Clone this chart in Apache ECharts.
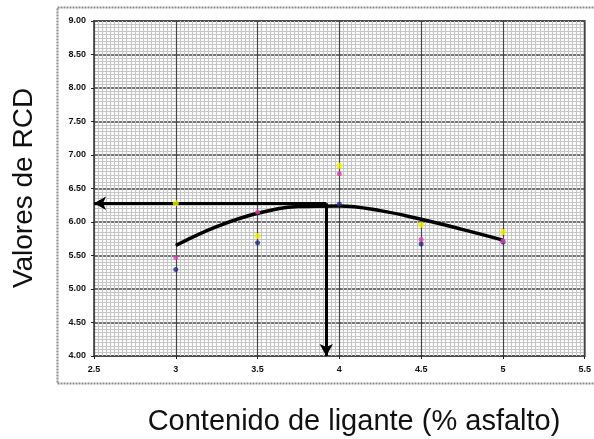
<!DOCTYPE html>
<html>
<head>
<meta charset="utf-8">
<script src="https://cdn.jsdelivr.net/npm/echarts@6/dist/echarts.min.js"></script>
<style>html,body{margin:0;padding:0;background:#fff;}#c{width:594px;height:439px;}</style>
</head>
<body>
<div id="c"></div>
<script>
var xTitle = 'Contenido de ligante (% asfalto)';
var yTitle = 'Valores de RCD';
var yellowPts = [[3, 6.28], [3.5, 5.79], [4, 6.84], [4.5, 5.96], [5, 5.85]];
var magentaPts = [[3, 5.47], [3.5, 6.15], [4, 6.72], [4.5, 5.74], [5, 5.72]];
var bluePts = [[3, 5.29], [3.5, 5.69], [4, 6.27], [4.5, 5.67], [5, 5.70]];
var curvePts = [[3, 5.65], [3.25, 5.93], [3.5, 6.13], [3.75, 6.23], [4, 6.24], [4.25, 6.17], [4.5, 6.04], [4.75, 5.89], [5, 5.73]];
var optimum = [3.92, 6.28];

var chart = echarts.init(document.getElementById('c'), null, {renderer: 'canvas'});
var tickFont = {fontFamily: 'Liberation Sans, Arial', fontWeight: 'bold', fontSize: 9, color: '#111'};
chart.setOption({
  animation: false,
  backgroundColor: '#fff',
  grid: {left: 94, right: 5, top: 21, bottom: 83, show: true, backgroundColor: '#fff', borderColor: '#666', borderWidth: 2},
  xAxis: {
    type: 'value', min: 2.5, max: 5.5, interval: 0.5,
    axisLine: {show: false},
    axisTick: {show: true, length: 3, lineStyle: {color: '#222'}},
    axisLabel: Object.assign({margin: 9}, tickFont),
    splitLine: {show: true, lineStyle: {color: '#444', width: 1.2}},
    minorTick: {show: false, splitNumber: 20},
    minorSplitLine: {show: true, lineStyle: {color: '#c6c6c6', width: 1.2}}
  },
  yAxis: {
    type: 'value', min: 4, max: 9, interval: 0.5,
    axisLine: {show: false},
    axisTick: {show: true, length: 3, lineStyle: {color: '#222'}},
    axisLabel: Object.assign({margin: 8, formatter: function (v) { return v.toFixed(2); }}, tickFont),
    splitLine: {show: true, lineStyle: {color: '#444', width: 1.6}},
    minorTick: {show: false, splitNumber: 10},
    minorSplitLine: {show: true, lineStyle: {color: '#c6c6c6', width: 1.2}}
  },
  series: [
    {type: 'line', data: curvePts, smooth: 0.4, showSymbol: false, symbol: 'none',
     lineStyle: {color: '#000', width: 3.5}, z: 3,
     markLine: {silent: true, symbol: ['none', 'arrow'], symbolSize: [10, 12], label: {show: false},
       lineStyle: {color: '#000', width: 3, type: 'solid'},
       data: [
         [{coord: optimum}, {coord: [2.5, optimum[1]]}],
         [{coord: optimum}, {coord: [optimum[0], 4.0]}]
       ]}},
    {type: 'scatter', data: bluePts, symbol: 'circle', symbolSize: 5, itemStyle: {color: '#28288c'}, z: 4},
    {type: 'scatter', data: magentaPts, symbol: 'circle', symbolSize: 5, itemStyle: {color: '#e040a8'}, z: 5},
    {type: 'scatter', data: yellowPts, symbol: 'circle', symbolSize: 6, itemStyle: {color: '#f4f000'}, z: 6}
  ],
  graphic: [
    {type: 'rect', shape: {x: 57.5, y: 7.5, width: 545, height: 376}, z: -10,
     style: {fill: 'none', stroke: '#8a8a8a', lineWidth: 2, lineDash: [2, 1]}},
    {type: 'text', x: 24, y: 188, rotation: Math.PI / 2, z: 10,
     style: {text: yTitle, font: '28px "Liberation Sans", Arial', fill: '#111', textAlign: 'center', textVerticalAlign: 'middle'}},
    {type: 'text', x: 354, y: 422, z: 10,
     style: {text: xTitle, font: '29px "Liberation Sans", Arial', fill: '#111', textAlign: 'center', textVerticalAlign: 'middle'}}
  ]
});
</script>
</body>
</html>
